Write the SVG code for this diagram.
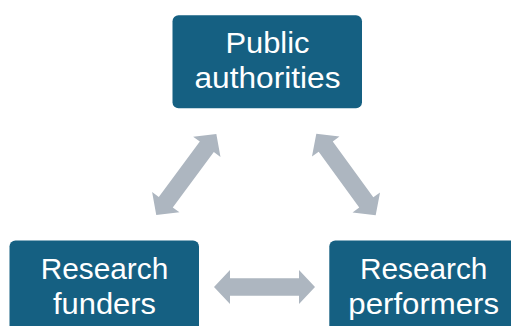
<svg xmlns="http://www.w3.org/2000/svg" width="511" height="326" viewBox="0 0 511 326">
<defs>
<style>
.box{fill:#156082;}
.lbl{fill:#ffffff;font-family:"Liberation Sans","Arial",sans-serif;font-size:29px;text-anchor:middle;}
.arr{fill:#ADB6C0;}
</style>
<path id="dbl" d="M-50.5,0 L-34.5,-17 L-34.5,-8.7 L34.5,-8.7 L34.5,-17 L50.5,0 L34.5,17 L34.5,8.7 L-34.5,8.7 L-34.5,17 Z"/>
</defs>
<rect width="511" height="326" fill="#ffffff"/>
<g id="connectors">
<use href="#dbl" class="arr" transform="translate(186.3,174.5) rotate(-53.5)"/>
<use href="#dbl" class="arr" transform="translate(346,174.5) rotate(54)"/>
<use href="#dbl" class="arr" transform="translate(264.5,287)"/>
</g>
<g id="public-authorities">
<rect class="box" x="172.5" y="15.3" width="189.5" height="93" rx="6"/>
<text class="lbl" x="267.5" y="52.7" textLength="84" lengthAdjust="spacingAndGlyphs">Public</text>
<text class="lbl" x="267.5" y="87.7" textLength="146" lengthAdjust="spacingAndGlyphs">authorities</text>
</g>
<g id="research-funders">
<rect class="box" x="9.5" y="240.5" width="189.5" height="100" rx="6"/>
<text class="lbl" x="104.5" y="278.5" textLength="127.5" lengthAdjust="spacingAndGlyphs">Research</text>
<text class="lbl" x="104.5" y="313.5" textLength="103" lengthAdjust="spacingAndGlyphs">funders</text>
</g>
<g id="research-performers">
<rect class="box" x="329.3" y="240.5" width="189.5" height="100" rx="6"/>
<text class="lbl" x="423.7" y="278.5" textLength="127.5" lengthAdjust="spacingAndGlyphs">Research</text>
<text class="lbl" x="423.7" y="313.5" textLength="150.7" lengthAdjust="spacingAndGlyphs">performers</text>
</g>
</svg>
